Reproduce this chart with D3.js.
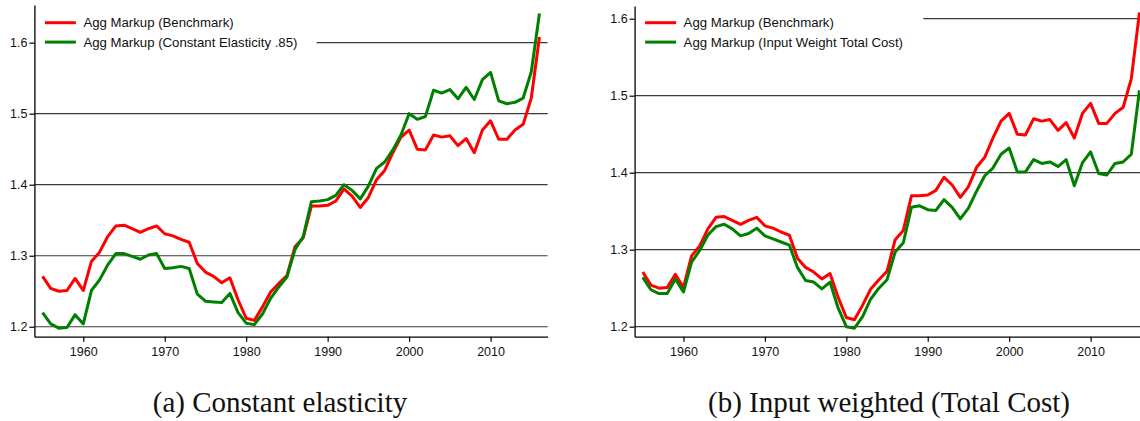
<!DOCTYPE html>
<html>
<head>
<meta charset="utf-8">
<script src="https://cdn.jsdelivr.net/npm/d3@7/dist/d3.min.js"></script>
<style>
	body { margin: 0; background: #fff; }
	#viz { width: 1140px; height: 421px; }
	.tick text { font-family: "Liberation Sans", Arial, sans-serif; font-size: 12.5px; fill: #111; }
</style>
</head>
<body>
<div id="viz"></div>
<script>
var years = [1955,1956,1957,1958,1959,1960,1961,1962,1963,1964,1965,1966,1967,1968,1969,1970,
	1971,1972,1973,1974,1975,1976,1977,1978,1979,1980,1981,1982,1983,1984,1985,1986,1987,1988,
	1989,1990,1991,1992,1993,1994,1995,1996,1997,1998,1999,2000,2001,2002,2003,2004,2005,2006,
	2007,2008,2009,2010,2011,2012,2013,2014,2015,2016];

// agg markup, benchmark (same series in both panels)
var benchmark = [1.271,1.254,1.250,1.251,1.268,1.251,1.292,1.305,1.327,1.342,1.343,1.338,1.333,1.338,1.342,1.331,
	1.328,1.323,1.319,1.289,1.277,1.271,1.262,1.269,1.238,1.212,1.209,1.228,1.249,1.261,1.272,1.313,1.325,1.370,
	1.370,1.371,1.377,1.394,1.384,1.368,1.382,1.407,1.420,1.445,1.467,1.477,1.450,1.449,1.470,1.467,1.469,1.455,
	1.465,1.445,1.477,1.490,1.464,1.464,1.477,1.485,1.522,1.608];

var constElasticity = [1.220,1.204,1.198,1.199,1.217,1.204,1.251,1.266,1.287,1.303,1.303,1.299,1.295,1.301,1.303,1.282,
	1.283,1.285,1.282,1.246,1.236,1.235,1.234,1.247,1.220,1.205,1.203,1.218,1.240,1.256,1.270,1.309,1.327,1.376,
	1.377,1.379,1.385,1.400,1.392,1.380,1.398,1.423,1.432,1.449,1.470,1.500,1.492,1.496,1.533,1.529,1.534,1.521,
	1.537,1.520,1.548,1.558,1.518,1.514,1.516,1.522,1.559,1.641];

var inputWeightTC = [1.264,1.248,1.243,1.243,1.262,1.245,1.284,1.299,1.319,1.330,1.333,1.327,1.318,1.321,1.328,1.318,
	1.314,1.310,1.306,1.277,1.260,1.258,1.249,1.258,1.224,1.200,1.198,1.213,1.236,1.250,1.261,1.297,1.309,1.355,
	1.357,1.352,1.351,1.365,1.355,1.340,1.354,1.376,1.396,1.406,1.424,1.432,1.401,1.401,1.417,1.412,1.414,1.408,
	1.417,1.383,1.413,1.427,1.399,1.397,1.412,1.414,1.424,1.507];

var yTicks = [1.2, 1.3, 1.4, 1.5, 1.6];
var xTicks = [1960, 1970, 1980, 1990, 2000, 2010];

var legendA = ["Agg Markup (Benchmark)", "Agg Markup (Constant Elasticity .85)"];
var legendB = ["Agg Markup (Benchmark)", "Agg Markup (Input Weight Total Cost)"];
var captions = ["(a) Constant elasticity", "(b) Input weighted (Total Cost)"];

var width = 1140, height = 421;
var svg;

generate();

function generate(){
	svg = d3.select("#viz").append("svg")
		.attr("width", width)
		.attr("height", height);

	panel({
		left: 34.4, right: 547.6, top: 5, bottom: 336.7,
		yDomain: [1.186, 1.653],
		series: [benchmark, constElasticity],
		legend: legendA,
		gridStart16: 316.7,
		caption: captions[0], captionX: 280
	});

	panel({
		left: 634.6, right: 1147.6, top: 6, bottom: 336.7,
		yDomain: [1.187, 1.6165],
		series: [benchmark, inputWeightTC],
		legend: legendB,
		gridStart16: 923.3,
		caption: captions[1], captionX: 889
	});
}

function panel(p){
	var colors = ["#ff0000", "#008000"];

	var x = d3.scaleLinear().domain([1954, 2017]).range([p.left, p.right]);
	var y = d3.scaleLinear().domain(p.yDomain).range([p.bottom, p.top]);

	var g = svg.append("g");

	// horizontal grid
	g.selectAll(".grid")
		.data(yTicks)
		.enter().append("line")
			.attr("class", "grid")
			.attr("x1", (d) => d === 1.6 ? p.gridStart16 : p.left)
			.attr("x2", p.right)
			.attr("y1", (d) => y(d))
			.attr("y2", (d) => y(d))
			.style("stroke", "#3a3a3a")
			.style("stroke-width", 1.2);

	var yAxis = g.append("g")
		.attr("transform", "translate(" + p.left + ",0)")
		.call(d3.axisLeft(y).tickValues(yTicks).tickFormat(d3.format(".1f"))
			.tickSize(5).tickSizeOuter(0).tickPadding(2));

	var xAxis = g.append("g")
		.attr("transform", "translate(0," + p.bottom + ")")
		.call(d3.axisBottom(x).tickValues(xTicks).tickFormat(d3.format("d"))
			.tickSize(5).tickSizeOuter(0).tickPadding(5));

	[yAxis, xAxis].forEach(function(a){
		a.select(".domain").style("stroke", "#000").style("stroke-width", 1.3);
		a.selectAll(".tick line").style("stroke", "#000").style("stroke-width", 1.2);
	});

	var line = d3.line()
		.x((d, i) => x(years[i]))
		.y((d) => y(d));

	g.selectAll(".series")
		.data(p.series)
		.enter().append("path")
			.attr("class", "series")
			.attr("d", (d) => line(d))
			.style("fill", "none")
			.style("stroke", (d, i) => colors[i])
			.style("stroke-width", 3)
			.style("stroke-linejoin", "round");

	// legend
	var lx = p.left + 10.5;
	var leg = g.selectAll(".legend")
		.data(p.legend)
		.enter().append("g")
			.attr("class", "legend")
			.attr("transform", (d, i) => "translate(" + lx + "," + (22.7 + i * 19.4) + ")");

	leg.append("line")
		.attr("x1", 0).attr("x2", 31)
		.style("stroke", (d, i) => colors[i])
		.style("stroke-width", 3);

	leg.append("text")
		.attr("x", 38.5)
		.attr("dy", "0.35em")
		.text((d) => d)
		.style("font-family", "'Liberation Sans', Arial, sans-serif")
		.style("font-size", "13.2px")
		.style("fill", "#111");

	svg.append("text")
		.attr("x", p.captionX)
		.attr("y", 412)
		.attr("text-anchor", "middle")
		.text(p.caption)
		.style("font-family", "'Liberation Serif', 'Times New Roman', serif")
		.style("font-size", "29px")
		.style("fill", "#111");
}
</script>
</body>
</html>
